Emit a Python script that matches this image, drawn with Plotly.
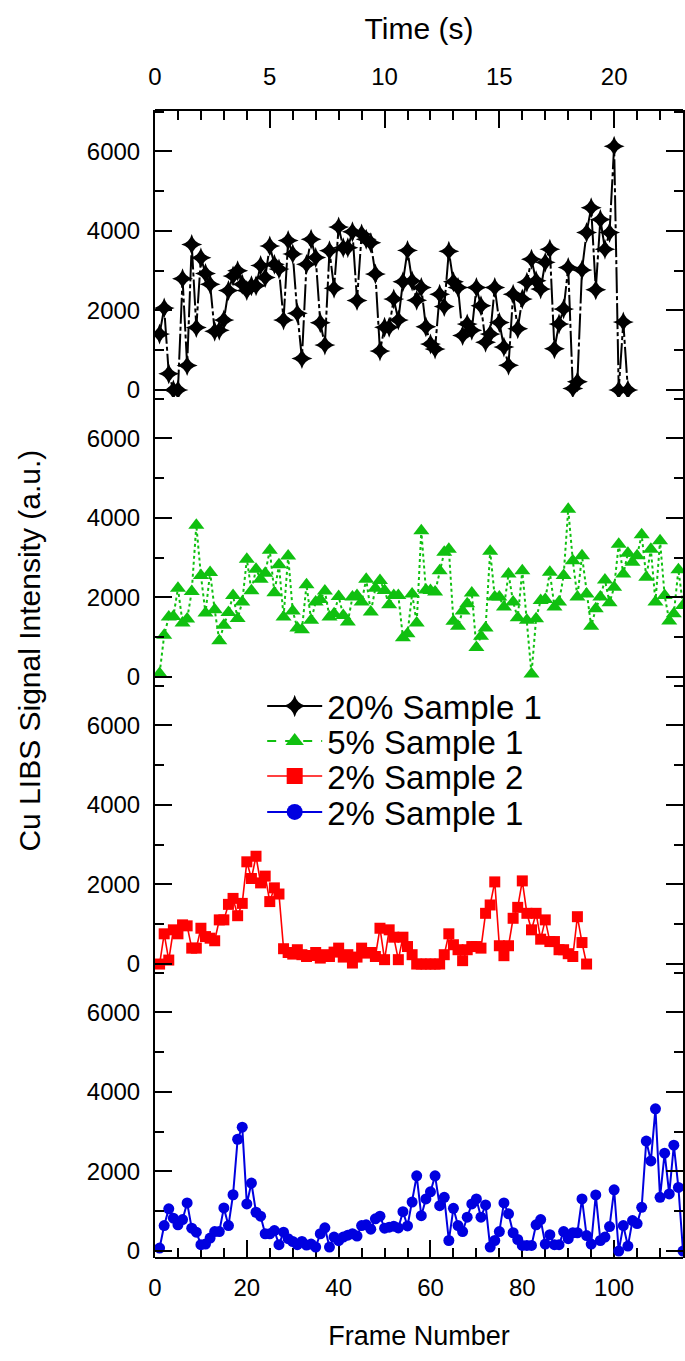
import plotly.graph_objects as go

# ---------------- data ----------------
frames_20 = list(range(1, 104))
signal_20 = [1410, 2060, 410, 0, 0, 2800, 620, 3660, 1575, 3325,
             2930, 2660, 1475, 1500, 1760, 2500, 2870, 3000, 2660, 2500,
             2620, 2620, 3130, 2830, 3620, 3160, 3040, 1760, 3760, 3420,
             1930, 790, 3160, 3790, 3330, 1690, 1130, 3500, 2560, 4100,
             3580, 3580, 3980, 2250, 3920, 3790, 3700, 2920, 980, 1580,
             1580, 2290, 1760, 2720, 3510, 2740, 2255, 2575, 1590, 1160,
             1030, 2410, 2100, 3490, 2720, 2575, 1370, 1660, 1500, 2575,
             2120, 1200, 1410, 2575, 1700, 1080, 625, 2410, 1540, 2290,
             2710, 3290, 2750, 2540, 3210, 3540, 1040, 1660, 2040, 3080,
             40, 210, 3020, 3960, 4580, 2520, 4290, 3540, 3960, 6130,
             0, 1710, 0]

frames_5 = list(range(1, 116))
signal_5 = [90, 1050, 1510, 1525, 2230, 1360, 1460, 2150, 3815, 2550,
            1610, 2630, 1690, 910, 1300, 1625, 2050, 1470, 1885, 2960,
            2170, 2710, 2460, 2610, 3190, 2120, 2820, 1510, 3040, 1660,
            1235, 1190, 2320, 1425, 1885, 1950, 2160, 1510, 1590, 2025,
            1550, 1385, 2010, 2050, 1885, 2460, 1635, 2230, 2425, 2175,
            1815, 2050, 2050, 990, 1090, 2090, 1360, 3675, 2190, 2175,
            2135, 2675, 3135, 3215, 1400, 1275, 1660, 1840, 2110, 740,
            1025, 1235, 3160, 2010, 2010, 1760, 2590, 1885, 1490, 2675,
            1425, 75, 1465, 1925, 1950, 2635, 1760, 1885, 2550, 4215,
            2925, 2010, 3050, 2090, 1275, 1715, 2010, 2440, 1865, 2260,
            3340, 2590, 3110, 2885, 3050, 3575, 2510, 3215, 1885, 3425,
            2050, 1410, 1590, 2700, 1800]

frames_2b = list(range(1, 95))
signal_2b = [0, 760, 100, 860, 760, 985, 960, 400, 400, 900,
             690, 650, 585, 1110, 1110, 1500, 1650, 1215, 1525, 2570,
             2150, 2710, 2040, 2210, 1570, 1915, 1760, 385, 290, 250,
             360, 235, 190, 215, 290, 150, 235, 190, 300, 400,
             175, 235, 25, 175, 400, 275, 290, 190, 900, 110,
             860, 675, 110, 675, 440, 235, 0, 0, 0, 0,
             0, 0, 235, 760, 485, 360, 85, 360, 440, 440,
             400, 1275, 1485, 2065, 460, 210, 460, 1150, 1425, 2090,
             1275, 860, 1275, 625, 1110, 565, 565, 360, 360, 260,
             190, 1190, 540, 0]

frames_2a = list(range(1, 116))
signal_2a = [75, 640, 1060, 825, 660, 790, 1210, 575, 475, 160,
             175, 325, 490, 490, 1085, 640, 1415, 2810, 3115, 1185,
             1710, 975, 875, 435, 435, 515, 160, 475, 310, 240,
             160, 240, 150, 175, 100, 435, 585, 100, 350, 260,
             350, 400, 435, 375, 640, 660, 550, 810, 875, 575,
             600, 625, 580, 990, 630, 1230, 1890, 890, 1310, 1490,
             1890, 1140, 1350, 265, 1075, 640, 490, 850, 1185, 1310,
             850, 1160, 100, 265, 490, 1210, 935, 460, 290, 140,
             140, 140, 660, 790, 175, 410, 160, 160, 490, 310,
             460, 460, 1310, 390, 175, 1410, 265, 350, 615, 1540,
             0, 640, 125, 765, 690, 1100, 2765, 2265, 3575, 1350,
             2460, 1435, 2660, 1600, 0]

series_names = ["20% Sample 1", "5% Sample 1", "2% Sample 2", "2% Sample 1"]
frame_ticks = [0, 20, 40, 60, 80, 100]
time_ticks = [0, 5, 10, 15, 20]
y_ticks = [0, 2000, 4000, 6000]
seconds_per_frame = 0.2
frame_max = 115

# ---------------- figure ----------------
FONT = "Liberation Sans, Arial, sans-serif"
fig = go.Figure()

styles = [
    dict(color="black", dash="26px,3px,4px,3px", width=2, symbol="star-diamond", msize=15),
    dict(color="#10c010", dash="dot", width=2, symbol="triangle-up", msize=14),
    dict(color="#ff0000", dash="solid", width=1.6, symbol="square", msize=11),
    dict(color="#0000e0", dash="solid", width=2, symbol="circle", msize=11),
]
data = [(frames_20, signal_20), (frames_5, signal_5), (frames_2b, signal_2b), (frames_2a, signal_2a)]
yaxes = ["y", "y2", "y3", "y4"]

for (fx, fy), st, ya, name in zip(data, styles, yaxes, series_names):
    fig.add_trace(go.Scatter(
        x=fx, y=fy, mode="lines+markers", name=name, showlegend=False,
        xaxis="x", yaxis=ya, cliponaxis=True,
        line=dict(color=st["color"], width=st["width"], dash=st["dash"]),
        marker=dict(symbol=st["symbol"], size=st["msize"], color=st["color"],
                    line=dict(width=0)),
    ))

# legend entries (one small legend per row)
legend_names = ["legend", "legend2", "legend3", "legend4"]
for st, name, lg in zip(styles, series_names, legend_names):
    fig.add_trace(go.Scatter(
        x=[None], y=[None], mode="lines+markers", name=name, legend=lg,
        xaxis="x", yaxis="y",
        line=dict(color=st["color"], width=st["width"],
                  dash="dash" if st["dash"] == "dot" else "solid"),
        marker=dict(symbol=st["symbol"], size=st["msize"] + 6, color=st["color"]),
    ))

# invisible trace to carry the time axis
fig.add_trace(go.Scatter(x=[0], y=[0], xaxis="x2", yaxis="y", mode="markers",
                         marker=dict(opacity=0), showlegend=False, hoverinfo="skip"))

yrange = [-175, 7040]
axis_common = dict(
    showline=True, linecolor="black", linewidth=2,
    ticks="inside", ticklen=17, tickwidth=2, tickcolor="black",
    showgrid=False, zeroline=False, automargin=False,
    tickfont=dict(family=FONT, size=24, color="black"),
)
n = 4
for i, ya in enumerate(["yaxis", "yaxis2", "yaxis3", "yaxis4"]):
    top = 1 - i / n
    bot = 1 - (i + 1) / n
    fig.layout[ya] = dict(
        domain=[bot, top], range=yrange, tickvals=y_ticks, anchor="x",
        mirror="ticks", ticklabelstandoff=8,
        minor=dict(dtick=1000, ticks="inside", ticklen=9, tickwidth=2, tickcolor="black"),
        **axis_common,
    )

legend_rows_px = [706, 741, 776, 812]
plot_top, plot_bottom = 110, 1258
legend_layout = {}
for lg, ypx in zip(legend_names, legend_rows_px):
    legend_layout[lg] = dict(
        x=0.203, y=(plot_bottom - ypx) / (plot_bottom - plot_top),
        xanchor="left", yanchor="middle",
        font=dict(family=FONT, size=33, color="black"),
        bgcolor="rgba(0,0,0,0)", itemwidth=55,
    )

fig.update_layout(
    xaxis=dict(
        domain=[0, 1], range=[0, frame_max], tickvals=frame_ticks, anchor="free", position=0,
        ticklabelstandoff=8,
        minor=dict(dtick=5, ticks="inside", ticklen=9, tickwidth=2, tickcolor="black"),
        title=dict(text="Frame Number", font=dict(family=FONT, size=27, color="black"), standoff=25),
        **axis_common,
    ),
    xaxis2=dict(
        overlaying="x", side="top", anchor="free", position=1,
        range=[0, frame_max * seconds_per_frame], tickvals=time_ticks,
        ticklabelstandoff=14,
        minor=dict(dtick=1, ticks="inside", ticklen=9, tickwidth=2, tickcolor="black"),
        title=dict(text="Time (s)", font=dict(family=FONT, size=30, color="black"), standoff=14),
        **axis_common,
    ),
    width=685, height=1361,
    margin=dict(l=155, r=2, t=110, b=103, autoexpand=False),
    paper_bgcolor="white", plot_bgcolor="white",
    showlegend=True,
    annotations=[dict(
        text="Cu LIBS Signal Intensity (a.u.)", textangle=-90,
        xref="paper", yref="paper", x=-0.237, y=0.529, showarrow=False,
        xanchor="center", yanchor="middle",
        font=dict(family=FONT, size=30, color="black"),
    )],
    **legend_layout,
)

fig.write_html("out.html", config={"displayModeBar": False},
               post_script="document.body.style.margin='0';")
